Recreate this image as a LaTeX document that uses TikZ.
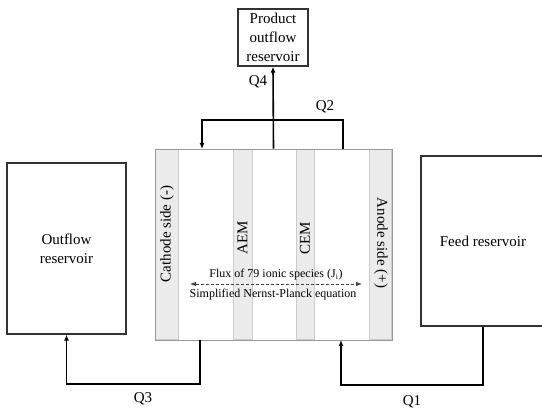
\documentclass[tikz,border=0pt]{standalone}
\usepackage{fontspec}
\setmainfont{Liberation Serif}
\usetikzlibrary{arrows.meta,calc}
\tikzset{
  resbox/.style={draw=black!80, line width=1.3pt, inner sep=0pt, align=center, font=\fontsize{15}{19}\selectfont},
  cellbox/.style={draw=black!40, line width=0.8pt, inner sep=0pt},
  stripe/.style={fill=black!8, draw=black!20, line width=0.4pt},
  flow/.style={line width=1.6pt, -{Latex[length=6pt,width=5pt]}},
  flowline/.style={line width=1.6pt},
  qlab/.style={font=\fontsize{15}{18}\selectfont, inner sep=0pt},
  sidelab/.style={font=\fontsize{15}{18}\selectfont, inner sep=0pt},
  fluxlab/.style={font=\fontsize{12}{14}\selectfont, inner sep=0pt}
}
\begin{document}
\begin{tikzpicture}[x=1pt,y=-1pt]
\useasboundingbox (0,0) rectangle (542,409);
\clip (0,0) rectangle (542,409);
\fill[white] (0,0) rectangle (542,409);
% membrane cell
\node[cellbox, minimum width=237pt, minimum height=191pt] (cell) at (273.5,244.5) {};
\draw[stripe] (155.4,149.4) rectangle (178,339.6);
\draw[stripe] (233,149.4) rectangle (252,339.6);
\draw[stripe] (296,149.4) rectangle (314,339.6);
\draw[stripe] (369,149.4) rectangle (391.6,339.6);
\node[cellbox, minimum width=237pt, minimum height=191pt] (cellframe) at (273.5,244.5) {};
% reservoirs
\node[resbox, minimum width=70pt, minimum height=57pt] (prod) at (273,37.5) {Product\\outflow\\reservoir};
\node[resbox, minimum width=119pt, minimum height=171pt] (outf) at (66.5,248.5) {Outflow\\reservoir};
\node[resbox, minimum width=124pt, minimum height=170pt] (feed) at (483,241) {Feed reservoir};
% labels inside cell
\node[sidelab, rotate=90] (cath) at (167,234) {Cathode side (-)};
\node[sidelab, rotate=90] (aem) at (242.5,238) {AEM};
\node[sidelab, rotate=90] (cem) at (305,238) {CEM};
\node[sidelab, rotate=-90] (anode) at (381,243) {Anode side (+)};
\node[fluxlab] (flux) at (276,275) {Flux of 79 ionic species (J\textsubscript{i})};
\node[fluxlab] (np) at (273,295) {Simplified Nernst-Planck equation};
\coordinate (fl) at (190,284);
\coordinate (fr) at (362,284);
\draw[black!75, line width=0.8pt, dash pattern=on 3pt off 2pt, {Latex[length=6pt,width=4.5pt]}-{Latex[length=6pt,width=4.5pt]}] (fl) -- (fr);
% Q4
\draw[flow] (cell.north) -- (prod.south);
\node[qlab] (q4) at (258,82) {Q4};
% Q2
\coordinate (q2a) at (343,149);
\coordinate (q2b) at (202,149);
\draw[flow] (q2a) -- (343,120) -- (202,120) -- (q2b);
\node[qlab] (q2) at (325,107) {Q2};
% Q3
\coordinate (q3a) at (200,340);
\draw[flow] (q3a) -- (200,384) -| (outf.south);
\node[qlab] (q3) at (143,399) {Q3};
% Q1
\coordinate (q1b) at (341,340);
\draw[flow] (feed.south) -- (483,385) -| (q1b);
\node[qlab] (q1) at (412,402) {Q1};
\end{tikzpicture}
\end{document}
